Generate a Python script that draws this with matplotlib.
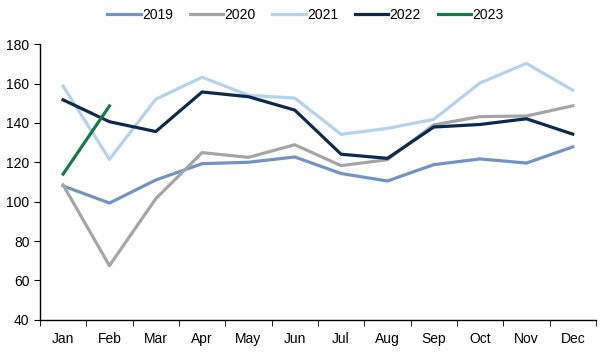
import numpy as np
import matplotlib
matplotlib.use('Agg')
from matplotlib import pyplot as plt
from matplotlib.ticker import FixedLocator

matplotlib.rcParams['font.family'] = ['Liberation Sans', 'DejaVu Sans']

months = ['Jan', 'Feb', 'Mar', 'Apr', 'May', 'Jun', 'Jul', 'Aug', 'Sep', 'Oct', 'Nov', 'Dec']
y2019 = [108, 99.3, 111, 119.3, 120, 122.7, 114.3, 110.5, 118.8, 121.7, 119.6, 127.8]
y2020 = [108.5, 67.5, 101.5, 124.9, 122.5, 128.9, 118.3, 121.3, 139, 143.2, 143.5, 148.7]
y2021 = [158.7, 121.5, 152, 163.2, 154, 152.6, 134.2, 137.2, 141.8, 160.3, 170.2, 156.6]
y2022 = [151.7, 140.6, 135.6, 155.7, 153.3, 146.5, 124.1, 122, 137.9, 139.2, 142.1, 134.3]
y2023 = [114, 148.6]

x = np.arange(len(months))

fig = plt.figure(figsize=(6.05, 3.53), dpi=100)
ax = fig.add_axes([0.066, 0.094, 0.919, 0.781])

ax.plot(x, y2019, color='#7394c3', lw=2.3, label='2019')
ax.plot(x, y2020, color='#a5a5a5', lw=2.3, label='2020')
ax.plot(x, y2021, color='#b3d3ec', lw=2.3, label='2021')
ax.plot(x, y2022, color='#0c2a4d', lw=2.3, label='2022')
ax.plot(x[:len(y2023)], y2023, color='#157a46', lw=2.3, label='2023')

ax.set_xlim(-0.5, 11.5)
ax.set_ylim(40, 180)
ax.set_yticks(np.arange(40, 181, 20))
ax.set_xticks(x)
ax.set_xticklabels(months)
ax.xaxis.set_minor_locator(FixedLocator(np.arange(-0.5, 12, 1)))
ax.tick_params(axis='x', which='major', length=0, pad=9, labelsize=10)
ax.tick_params(axis='x', which='minor', length=4, direction='out')
ax.tick_params(axis='y', length=4, direction='out', labelsize=10)

for s in ['top', 'right']:
    ax.spines[s].set_visible(False)
ax.spines['left'].set_linewidth(1.0)
ax.spines['bottom'].set_linewidth(1.0)

fig.legend(loc='upper center', bbox_to_anchor=(0.505, 1.012), ncol=5, frameon=False,
           fontsize=10, handlelength=2.4, handletextpad=0.1, columnspacing=1.2)

plt.savefig('out.png', dpi=100)
